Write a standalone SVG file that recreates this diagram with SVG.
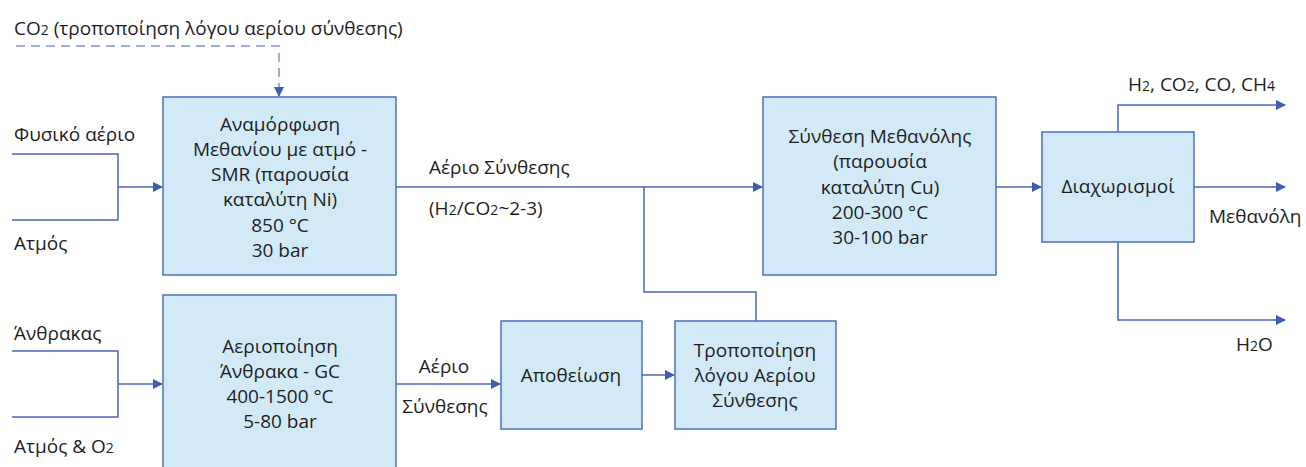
<svg xmlns="http://www.w3.org/2000/svg" width="1306" height="467" viewBox="0 0 1306 467">
<defs>
<marker id="ah" markerWidth="10" markerHeight="10" refX="9" refY="5" orient="auto" markerUnits="userSpaceOnUse">
<path d="M0,0 L10,5 L0,10 Z" fill="#3F5DB5"/>
</marker>
</defs>
<style>
.box{fill:#D2EAF7;stroke:#4D6FC0;stroke-width:1.5}
.ln{fill:none;stroke:#4A66BE;stroke-width:1.5}
.dash{fill:none;stroke:#7F93D2;stroke-width:1.5;stroke-dasharray:9,6}
text{font-family:"Open Sans","Noto Sans","DejaVu Sans",sans-serif;font-size:19px;fill:#1e1e1e}
.c{text-anchor:middle}
.s{font-size:14px}
</style>
<rect width="1306" height="467" fill="#fff"/>
<g id="connectors">
<path class="dash" d="M16,46 H279 V88" />
<path class="ln" d="M279,88 V96" marker-end="url(#ah)"/>
<path class="ln" d="M12,154 H118 V220 H12"/>
<path class="ln" d="M118,187 H162" marker-end="url(#ah)"/>
<path class="ln" d="M12,351 H118 V417 H12"/>
<path class="ln" d="M118,384 H162" marker-end="url(#ah)"/>
<path class="ln" d="M396,187 H762" marker-end="url(#ah)"/>
<path class="ln" d="M644,187 V292 H756 V321"/>
<path class="ln" d="M396,384 H500" marker-end="url(#ah)"/>
<path class="ln" d="M642,375 H674" marker-end="url(#ah)"/>
<path class="ln" d="M996,187 H1041" marker-end="url(#ah)"/>
<path class="ln" d="M1118,132 V105 H1285" marker-end="url(#ah)"/>
<path class="ln" d="M1194,187 H1285" marker-end="url(#ah)"/>
<path class="ln" d="M1118,242 V320 H1285" marker-end="url(#ah)"/>
</g>
<g id="labels">
<text x="14" y="35">CO<tspan class="s">2</tspan> (τροποποίηση λόγου αερίου σύνθεσης)</text>
<text x="14" y="141">Φυσικό αέριο</text>
<text x="14" y="250">Ατμός</text>
<text x="14" y="340">Άνθρακας</text>
<text x="14" y="453">Ατμός &amp; O<tspan class="s">2</tspan></text>
<text x="429" y="174">Αέριο Σύνθεσης</text>
<text x="429" y="215">(H<tspan class="s">2</tspan>/CO<tspan class="s">2</tspan>~2-3)</text>
<text x="444" y="373" class="c">Αέριο</text>
<text x="445" y="413" class="c">Σύνθεσης</text>
<text x="1128" y="91">H<tspan class="s">2</tspan>, CO<tspan class="s">2</tspan>, CO, CH<tspan class="s">4</tspan></text>
<text x="1209" y="223">Μεθανόλη</text>
<text x="1236" y="351">H<tspan class="s">2</tspan>O</text>
</g>
<g id="smr">
<rect class="box" x="163" y="97" width="233" height="178"/>
<text class="c" x="280" y="131">Αναμόρφωση</text>
<text class="c" x="280" y="156">Μεθανίου με ατμό -</text>
<text class="c" x="280" y="181">SMR (παρουσία</text>
<text class="c" x="280" y="206">καταλύτη Ni)</text>
<text class="c" x="280" y="232">850 °C</text>
<text class="c" x="280" y="257">30 bar</text>
</g>
<g id="gc">
<rect class="box" x="163" y="295" width="233" height="180"/>
<text class="c" x="280" y="353">Αεριοποίηση</text>
<text class="c" x="280" y="378">Άνθρακα - GC</text>
<text class="c" x="280" y="403">400-1500 °C</text>
<text class="c" x="280" y="428">5-80 bar</text>
</g>
<g id="desulf">
<rect class="box" x="501" y="321" width="141" height="108"/>
<text class="c" x="571" y="382">Αποθείωση</text>
</g>
<g id="ratio">
<rect class="box" x="675" y="321" width="161" height="108"/>
<text class="c" x="755" y="357">Τροποποίηση</text>
<text class="c" x="755" y="382">λόγου Αερίου</text>
<text class="c" x="755" y="407">Σύνθεσης</text>
</g>
<g id="methanol">
<rect class="box" x="763" y="97" width="233" height="178"/>
<text class="c" x="880" y="143">Σύνθεση Μεθανόλης</text>
<text class="c" x="880" y="168">(παρουσία</text>
<text class="c" x="880" y="194">καταλύτη Cu)</text>
<text class="c" x="880" y="219">200-300 °C</text>
<text class="c" x="880" y="244">30-100 bar</text>
</g>
<g id="sep">
<rect class="box" x="1042" y="132" width="152" height="110"/>
<text class="c" x="1118" y="193">Διαχωρισμοί</text>
</g>
</svg>
